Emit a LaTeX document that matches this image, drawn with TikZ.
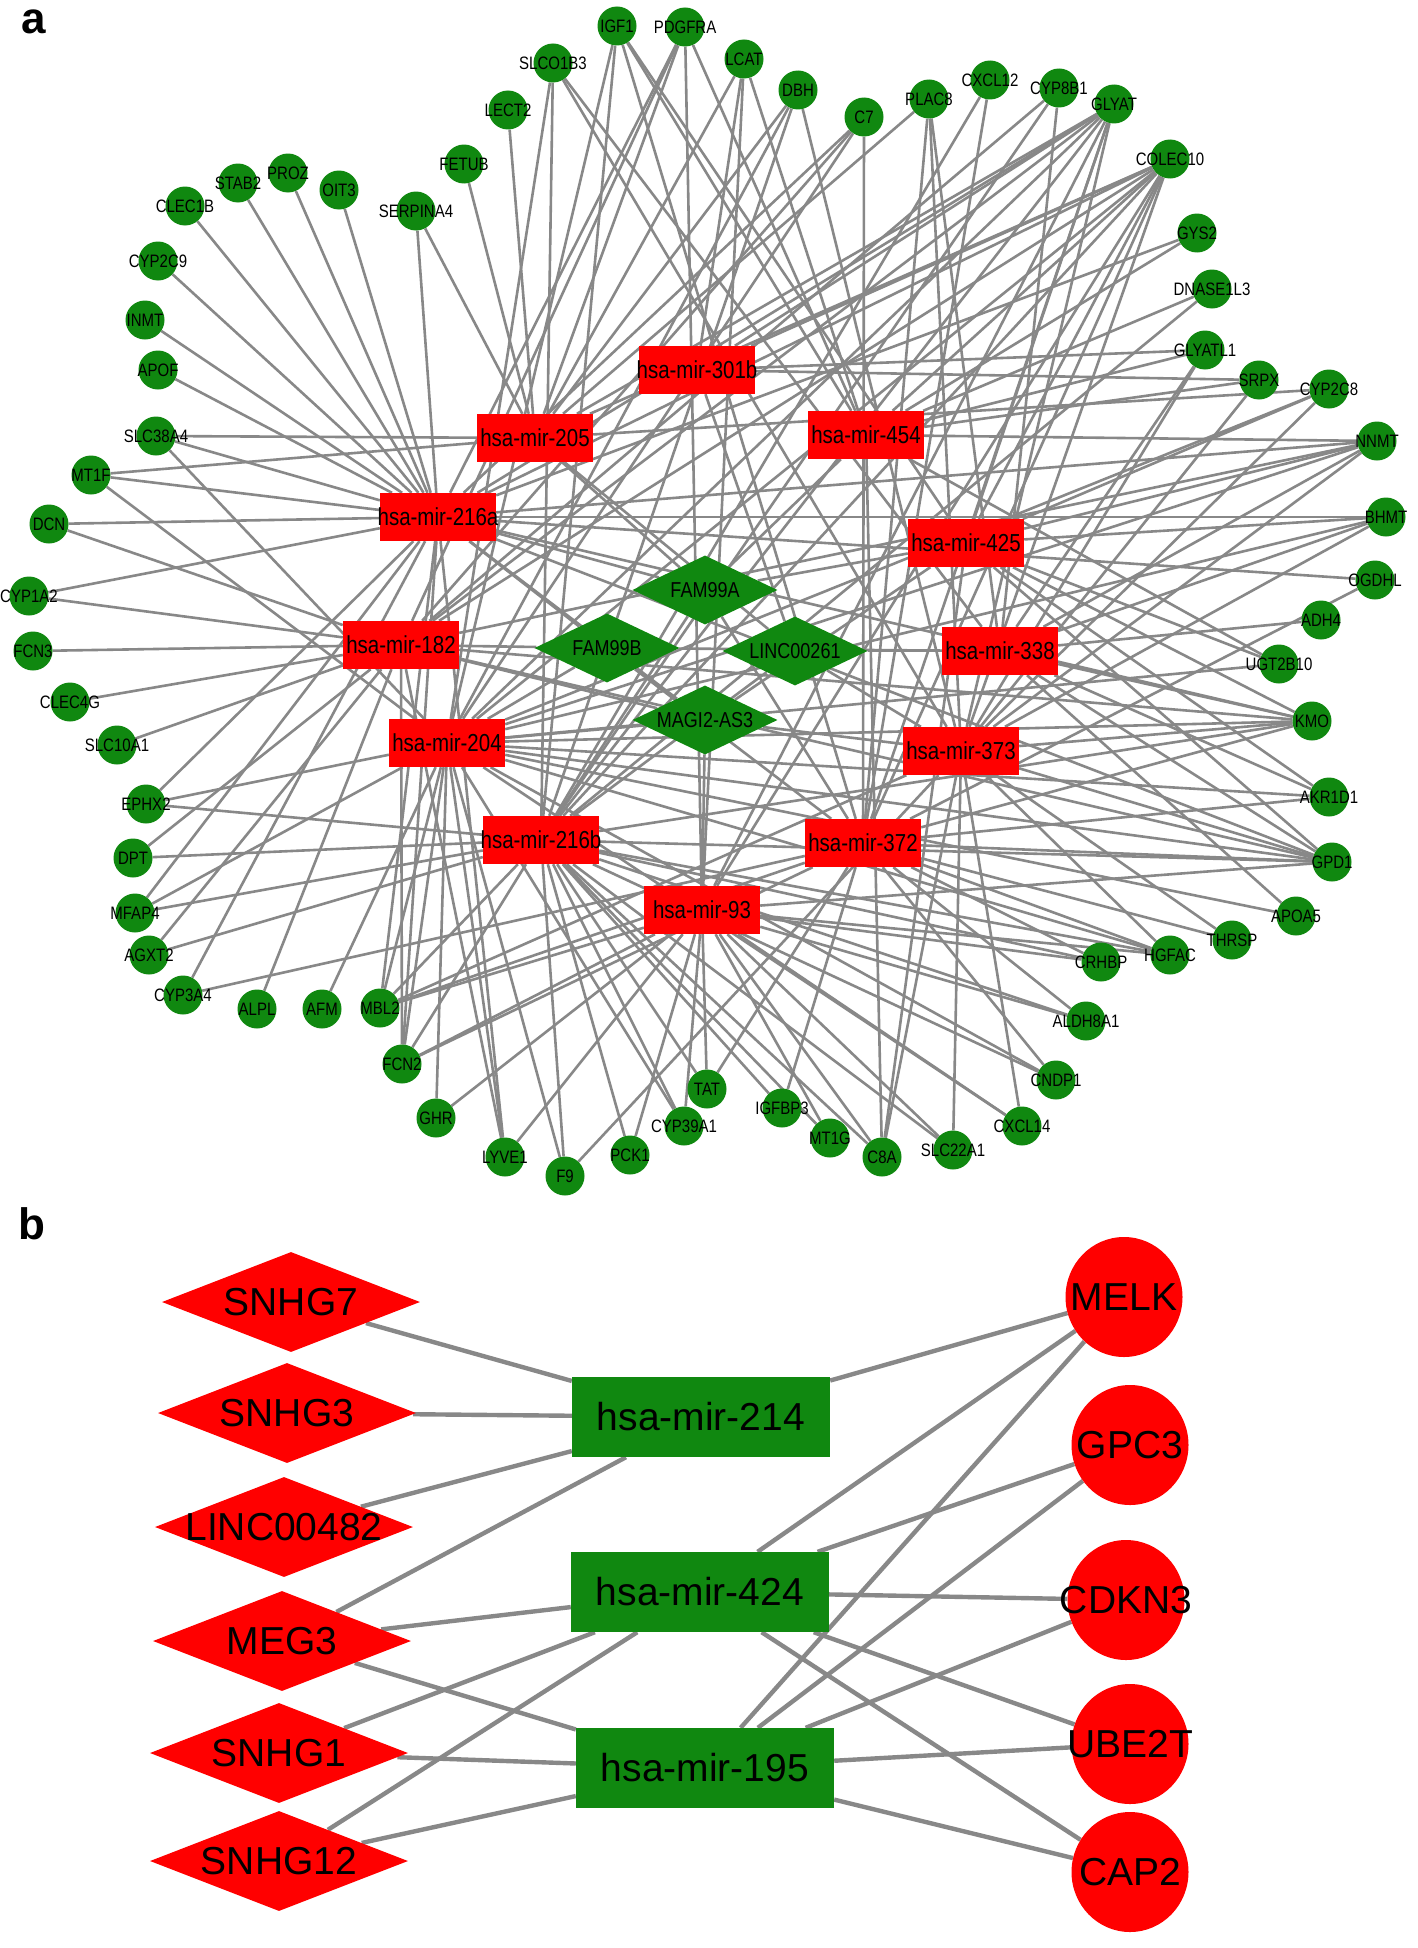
\documentclass[tikz,border=0pt]{standalone}
\usepackage{fontspec}
\setmainfont{Liberation Sans}
\usetikzlibrary{shapes.geometric}
\definecolor{cg}{RGB}{16,136,16}
\definecolor{cr}{RGB}{255,0,0}
\definecolor{eg}{RGB}{136,136,136}
\pgfdeclarelayer{bg}
\pgfsetlayers{bg,main}
\newcommand{\vst}[1]{\scalebox{1}[1.2]{#1}}
\begin{document}
\begin{tikzpicture}[x=1pt,y=-1pt,
  gene/.style={circle,fill=cg,draw=none,minimum size=39pt,inner sep=0pt},
  glab/.style={font=\fontsize{15}{15}\selectfont,inner sep=0pt},
  mir/.style={rectangle,fill=cr,minimum width=116pt,minimum height=48pt,inner sep=0pt},
  mlab/.style={font=\fontsize{20.5}{20}\selectfont,inner sep=0pt},
  lnc/.style={diamond,fill=cg,minimum width=145pt,minimum height=69pt,inner sep=0pt},
  llab/.style={font=\fontsize{18}{18}\selectfont,inner sep=0pt},
  ea/.style={draw=eg,line width=2.6pt},
  bdia/.style={diamond,fill=cr,minimum width=258pt,minimum height=100pt,inner sep=0pt},
  bmir/.style={rectangle,fill=cg,minimum width=258pt,minimum height=80pt,inner sep=0pt},
  bgene/.style={ellipse,fill=cr,minimum width=117pt,minimum height=120pt,inner sep=0pt},
  blab/.style={font=\fontsize{39}{39}\selectfont,inner sep=0pt},
  eb/.style={draw=eg,line width=4.4pt},
  plab/.style={font=\fontsize{44}{44}\selectfont\bfseries,inner sep=0pt}
]
\useasboundingbox (0,0) rectangle (1418,1948);
\begin{pgfonlayer}{bg}
\fill[white] (0,0) rectangle (1418,1948);
\end{pgfonlayer}

\node[plab] (la) at (34,22) {a};
\node[plab] (lb) at (32,1224) {b};

% ---------- panel a : genes ----------
\foreach \n/\x/\y in {
 IGF1/617/26, PDGFRA/685/27, LCAT/744/59, DBH/798/90, C7/864/117, PLAC8/929/99,
 CXCL12/990/80, CYP8B1/1059/88, GLYAT/1114/104, COLEC10/1170/159, GYS2/1197/233,
 DNASE1L3/1212/289, GLYATL1/1205/350, SRPX/1259/380, CYP2C8/1329/389, NNMT/1377/441,
 BHMT/1386/517, OGDHL/1375/580, ADH4/1321/620, UGT2B10/1279/664, KMO/1312/721,
 AKR1D1/1329/797, GPD1/1332/862, APOA5/1296/916, THRSP/1232/940, HGFAC/1170/955,
 CRHBP/1101/962, ALDH8A1/1086/1021, CNDP1/1056/1080, CXCL14/1022/1126,
 SLC22A1/953/1150, C8A/882/1157, MT1G/830/1138, IGFBP3/782/1108, TAT/707/1089,
 CYP39A1/684/1126, PCK1/630/1155, F9/565/1176, LYVE1/505/1157, GHR/436/1118,
 FCN2/402/1064, MBL2/380/1008, AFM/322/1009, ALPL/257/1009, CYP3A4/183/995,
 AGXT2/149/955, MFAP4/135/913, DPT/133/858, EPHX2/146/804, SLC10A1/117/745,
 CLEC4G/70/702, FCN3/33/651, CYP1A2/29/596, DCN/49/524, MT1F/91/475,
 SLC38A4/156/436, APOF/158/370, INMT/145/320, CYP2C9/158/261, CLEC1B/185/206,
 STAB2/238/183, PROZ/288/173, OIT3/339/190, SERPINA4/416/211, FETUB/464/164,
 LECT2/508/110, SLCO1B3/553/63}
{
 \node[gene] (\n) at (\x,\y) {};
 \node[glab] at (\x,\y) {\vst{\n}};
}

% ---------- panel a : miRNAs ----------
\foreach \n/\x/\y in {
 301b/697/370, 205/535/438, 454/866/435, 216a/438/517, 425/966/543,
 182/401/645, 338/1000/651, 204/447/743, 373/961/751, 216b/541/840,
 372/863/843, 93/702/910}
{
 \node[mir] (m\n) at (\x,\y) {};
 \node[mlab] at (\x,\y) {\vst{hsa-mir-\n}};
}

% ---------- panel a : lncRNAs ----------
\foreach \n/\x/\y in {FAM99A/705/590, FAM99B/607/648, LINC00261/795/651, MAGI2-AS3/705/720}
{
 \node[lnc] (\n) at (\x,\y) {};
 \node[llab] at (\x,\y) {\vst{\n}};
}

\begin{pgfonlayer}{bg}
\foreach \g/\ms in {
 CLEC1B/{216a}, STAB2/{216a}, PROZ/{216a}, OIT3/{216a}, CYP2C9/{216a},
 INMT/{216a}, APOF/{216a}, SERPINA4/{216a,205}, FETUB/{205}, LECT2/{205},
 SLCO1B3/{204,216b,373,338}, IGF1/{204,216b,372,454,425},
 PDGFRA/{216a,182,93,454,205}, LCAT/{205,93,301b,454}, DBH/{204,216b,205,373},
 C7/{216a,204,372,182}, PLAC8/{205,372,338,373}, CXCL12/{372,216b},
 CYP8B1/{182,216b,338},
 GLYAT/{301b,205,216a,182,204,216b,93,372,373,425},
 COLEC10/{301b,205,216a,454,204,216b,93,372,373,425,182},
 GYS2/{454,216a}, DNASE1L3/{454,216b}, GLYATL1/{301b,454,373,338},
 SRPX/{301b,454,373}, CYP2C8/{425,204,373,205},
 NNMT/{454,216a,425,182,204,338,373}, BHMT/{425,216a,338,373,204},
 OGDHL/{216a,372}, ADH4/{338}, UGT2B10/{454,204,425},
 KMO/{216a,182,204,425,338,373,216b,372}, AKR1D1/{425,338,204,372},
 GPD1/{216a,182,204,425,338,373,216b,372,93}, APOA5/{338,204},
 THRSP/{372,373}, HGFAC/{372,373,204,216b,93}, CRHBP/{216b,372,93},
 ALDH8A1/{216b,93,372}, CNDP1/{216b,204,372}, CXCL14/{204,373,93},
 SLC22A1/{373,93,216b}, C8A/{425,373,93,216b,454}, MT1G/{216b,93},
 IGFBP3/{216b,372}, TAT/{216b,93,372}, CYP39A1/{93,216b,204}, PCK1/{216b,93},
 F9/{216b,204,373}, LYVE1/{204,216a,182,93}, GHR/{204,93},
 FCN2/{182,204,216a,216b,93,372}, MBL2/{216a,204,216b,93,372,373},
 AFM/{204}, ALPL/{182}, CYP3A4/{372,216a}, AGXT2/{216b,182},
 MFAP4/{216a,204,216b}, DPT/{216b,182}, EPHX2/{204,216b,216a},
 SLC10A1/{182}, CLEC4G/{182}, FCN3/{182}, CYP1A2/{182,216a},
 DCN/{216a,182}, MT1F/{216a,205,204}, SLC38A4/{205,216a,204},
 FAM99A/{216a,425,205,454,216b,372}, FAM99B/{182,216a,204,372,338},
 LINC00261/{338,205,216b,301b,373}, MAGI2-AS3/{204,373,93,216a,425,182}}
{
 \foreach \m in \ms {\draw[ea] (\g) -- (m\m);}
}
\end{pgfonlayer}

% ---------- panel b ----------
\foreach \n/\x/\y in {SNHG7/291/1302, SNHG3/287/1413, LINC00482/284/1527,
 MEG3/282/1641, SNHG1/279/1753, SNHG12/279/1861}
{
 \node[bdia] (\n) at (\x,\y) {};
 \node[blab] at (\x,\y) {\n};
}
\foreach \n/\x/\y in {214/701/1417, 424/700/1592, 195/705/1768}
{
 \node[bmir] (b\n) at (\x,\y) {};
 \node[blab] at (\x,\y) {hsa-mir-\n};
}
\foreach \n/\x/\y in {MELK/1124/1297, GPC3/1130/1445, CDKN3/1126/1600,
 UBE2T/1130/1744, CAP2/1130/1872}
{
 \node[bgene] (\n) at (\x,\y) {};
 \node[blab] at (\x,\y) {\n};
}

\begin{pgfonlayer}{bg}
\foreach \a/\b in {SNHG7/b214, SNHG3/b214, LINC00482/b214, MEG3/b214,
 MEG3/b424, MEG3/b195, SNHG1/b424, SNHG1/b195, SNHG12/b424, SNHG12/b195,
 b214/MELK, b424/MELK, b424/GPC3, b424/CDKN3, b424/UBE2T, b424/CAP2,
 b195/MELK, b195/GPC3, b195/CDKN3, b195/UBE2T, b195/CAP2}
{
 \draw[eb] (\a) -- (\b);
}
\end{pgfonlayer}
\end{tikzpicture}
\end{document}
